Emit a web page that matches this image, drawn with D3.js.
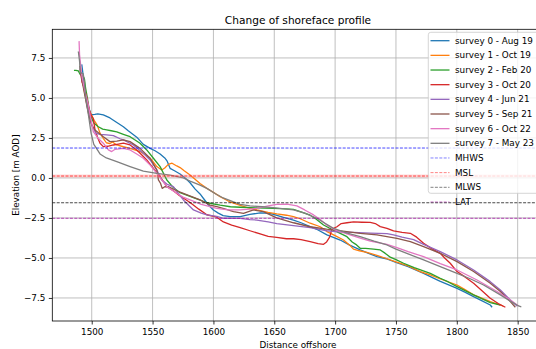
<!DOCTYPE html>
<html>
<head>
<meta charset="utf-8">
<script src="https://cdn.jsdelivr.net/npm/d3@7"></script>
<style>
  body { margin: 0; background: #fff; }
  svg { display: block; font-family: "DejaVu Sans", sans-serif; }
</style>
</head>
<body>
<svg id="chart" width="536" height="349"></svg>
<script>
// ---- data: [distance offshore, elevation m AOD] ----
const surveyNames = [
  "survey 0 - Aug 19", "survey 1 - Oct 19", "survey 2 - Feb 20", "survey 3 - Oct 20",
  "survey 4 - Jun 21", "survey 5 - Sep 21", "survey 6 - Oct 22", "survey 7 - May 23"
];
const surveyColors = ["#1f77b4", "#ff7f0e", "#2ca02c", "#d62728", "#9467bd", "#8c564b", "#e377c2", "#7f7f7f"];

const survey0 = [[1491.8,7.1],[1493,6.4],[1494.5,5.5],[1496,4.9],[1497.5,4.4],[1499.5,3.95],[1502.5,3.97],[1505,4.0],[1509.5,3.94],[1515,3.75],[1520,3.5],[1526,3.2],[1530,2.95],[1537,2.55],[1542.4,2.1],[1548,1.85],[1552,1.7],[1556.2,1.5],[1560,1.25],[1562,1.05],[1564.4,0.6],[1568,0.45],[1572.6,0.25],[1576,0.05],[1580.8,-0.3],[1585,-0.7],[1589,-1.0],[1592,-1.3],[1595.9,-1.69],[1600,-2.0],[1604,-2.2],[1608,-2.35],[1613.7,-2.42],[1622,-2.42],[1630,-2.28],[1638.4,-2.18],[1645,-2.2],[1649.3,-2.27],[1657,-2.45],[1665.8,-2.63],[1672,-2.8],[1679.5,-3.04],[1686,-3.25],[1693.3,-3.56],[1704.2,-3.88],[1712,-4.2],[1720.6,-4.5],[1727,-4.7],[1734.4,-4.92],[1742,-5.05],[1750,-5.28],[1760,-5.55],[1772.7,-5.96],[1786,-6.45],[1800.2,-6.9],[1807,-7.15],[1813.8,-7.42],[1820,-7.65],[1827.5,-7.94],[1829,-8.08]];

const survey1 = [[1490.5,7.0],[1492,6.3],[1494,5.4],[1496,4.7],[1498,4.2],[1500,3.9],[1502,3.6],[1504.5,3.3],[1506.8,2.8],[1509.5,2.48],[1512,2.2],[1515,2.15],[1517,2.25],[1520.6,2.06],[1526,1.95],[1531.5,1.85],[1539.7,1.65],[1544,1.45],[1548,1.23],[1551,0.95],[1553.5,0.71],[1557.5,0.5],[1560,0.62],[1562.9,0.85],[1566,0.92],[1569.9,0.75],[1572.6,0.65],[1576,0.45],[1580.8,0.19],[1589,-0.35],[1594.6,-0.65],[1600,-0.9],[1605.5,-1.17],[1613.7,-1.5],[1622,-1.72],[1628,-1.85],[1635.7,-2.0],[1645,-2.15],[1652.1,-2.25],[1660,-2.33],[1665.8,-2.42],[1671.3,-2.55],[1679.5,-2.83],[1687.8,-3.05],[1693.3,-3.35],[1700,-3.6],[1706.9,-3.875],[1712,-4.2],[1715.1,-4.45],[1720,-4.55],[1726.1,-4.65],[1735,-4.85],[1742.6,-5.05],[1750,-5.25],[1760,-5.5],[1770,-5.85],[1778.2,-6.06],[1786,-6.3],[1800.2,-6.69],[1806,-6.95],[1813.8,-7.31],[1820,-7.5],[1827.5,-7.73],[1835.8,-7.94],[1838,-8.0]];

const survey2 = [[1485.4,6.72],[1487,6.72],[1489,6.69],[1490.4,6.48],[1493.1,6.33],[1494,6.2],[1495,5.6],[1496.5,4.98],[1498.6,3.94],[1501.9,3.42],[1505.4,3.2],[1509,3.05],[1512.3,3.0],[1516,2.95],[1520.6,2.88],[1526,2.73],[1531.5,2.58],[1535,2.4],[1539.7,2.17],[1545.2,1.75],[1550.7,1.23],[1556.2,0.71],[1561.7,-0.125],[1567.1,-0.6],[1572,-0.9],[1580.8,-1.15],[1588,-1.35],[1594.6,-1.55],[1605.5,-1.7],[1614,-1.8],[1622,-1.83],[1635,-1.87],[1649.3,-1.9],[1660,-1.93],[1665.8,-1.96],[1671.3,-2.1],[1679.5,-2.33],[1684,-2.55],[1690.5,-2.94],[1697,-3.2],[1704.2,-3.46],[1709.7,-3.67],[1714,-4.0],[1717,-4.15],[1720.6,-4.4],[1725,-4.4],[1731.6,-4.45],[1737.1,-4.5],[1741,-4.7],[1745.3,-4.95],[1750,-5.1],[1756.3,-5.33],[1765,-5.6],[1778.2,-5.96],[1786.4,-6.27],[1793,-6.5],[1800.2,-6.79],[1813.8,-7.31],[1827.5,-7.79],[1835.8,-7.94]];

const survey3 = [[1490.5,6.8],[1492,6.0],[1494,5.6],[1496,5.0],[1497.5,4.4],[1499,4.0],[1501.3,3.7],[1502.7,3.0],[1505,2.5],[1506.8,2.17],[1509.5,1.96],[1513,1.98],[1517.8,2.06],[1522,2.12],[1526,2.17],[1531.5,2.06],[1537,1.75],[1541,1.45],[1545.2,1.125],[1550.7,0.6],[1556.2,0.08],[1561.7,-0.54],[1567.1,-0.8],[1572,-1.1],[1580.8,-1.53],[1588,-1.95],[1594.6,-2.3],[1602.8,-2.45],[1608.2,-2.75],[1615,-2.95],[1622,-3.1],[1630,-3.3],[1638.4,-3.5],[1645,-3.65],[1652,-3.72],[1660,-3.8],[1665.8,-3.8],[1672,-3.85],[1679.5,-3.98],[1686,-4.1],[1690.5,-4.15],[1693,-4.0],[1695.5,-3.7],[1697.4,-3.2],[1701.5,-3.05],[1705,-2.85],[1709.7,-2.8],[1715.1,-2.75],[1722,-2.77],[1728.9,-2.78],[1733,-2.85],[1737.1,-3.04],[1742.6,-3.15],[1748,-3.31],[1755,-3.4],[1761.8,-3.46],[1767,-3.7],[1772.7,-4.08],[1779,-4.4],[1786.4,-4.71],[1790,-5.0],[1794.6,-5.33],[1800.2,-5.85],[1807,-6.2],[1813.8,-6.58],[1820,-7.0],[1827.5,-7.52],[1834,-7.85],[1839.9,-8.08]];

const survey4 = [[1490.5,6.9],[1492,6.2],[1494,5.5],[1496,4.6],[1498,3.9],[1500,3.3],[1503.5,2.79],[1507,2.72],[1512.3,2.69],[1517.8,2.65],[1523.3,2.45],[1526,2.375],[1534.2,2.06],[1542.4,1.54],[1548,1.125],[1553.5,0.5],[1557.5,-0.125],[1562,-0.4],[1567.1,-0.54],[1571,-0.95],[1575.3,-1.375],[1583.6,-2.0],[1590,-2.2],[1594.6,-2.31],[1602.8,-2.4],[1608.2,-2.52],[1622,-2.53],[1630,-2.6],[1635.7,-2.63],[1645,-2.75],[1652.1,-2.85],[1665.8,-2.98],[1679.5,-3.1],[1693.3,-3.3],[1705,-3.38],[1715.1,-3.4],[1728.9,-3.45],[1742.6,-3.48],[1748,-3.56],[1755,-3.7],[1764.5,-3.85],[1772.7,-4.15],[1786.4,-4.6],[1800.2,-5.125],[1813.8,-5.75],[1827.5,-6.48],[1835.8,-7.0],[1844,-7.625],[1849.5,-8.0]];

const survey5 = [[1490.3,7.0],[1492,6.1],[1494,5.3],[1496,4.5],[1498,3.8],[1500,3.3],[1502.7,3.0],[1509.5,2.58],[1515,2.27],[1520.6,2.3],[1526,2.375],[1531.5,2.27],[1539.7,1.85],[1548,1.23],[1553.5,0.5],[1554.8,-0.125],[1556.5,-0.33],[1557.9,-0.65],[1560,-0.55],[1562.9,-0.54],[1569.9,-0.8],[1575.3,-0.96],[1589,-1.375],[1597.3,-1.7],[1602.8,-1.79],[1610,-1.95],[1616.5,-2.1],[1624.7,-2.21],[1632.9,-2.0],[1641,-2.1],[1652,-2.5],[1665.8,-2.8],[1679.5,-3.05],[1693,-3.2],[1709.7,-3.35],[1720.6,-3.46],[1734.4,-3.56],[1750.8,-3.77],[1761.8,-3.98],[1772.7,-4.29],[1786.4,-4.71],[1800.2,-5.23],[1813.8,-5.85],[1827.5,-6.58],[1835.8,-7.1],[1844,-7.73],[1848.1,-8.08]];

const survey6 = [[1489.6,8.55],[1490,7.7],[1491.8,6.44],[1494.5,5.4],[1497.2,4.56],[1499.2,3.73],[1501.3,2.9],[1505,2.5],[1509.5,2.17],[1513.7,1.75],[1516.4,1.65],[1519.2,1.79],[1526,1.85],[1531.5,1.75],[1537,1.5],[1542.4,1.23],[1548,0.8],[1553.5,0.29],[1561.7,-0.54],[1569.9,-0.96],[1575,-1.2],[1580.8,-1.375],[1590,-1.65],[1602.8,-1.9],[1612,-2.0],[1622,-2.0],[1630,-1.95],[1635.7,-1.9],[1645,-1.75],[1652.1,-1.65],[1660.4,-1.63],[1668.6,-1.75],[1675,-2.0],[1682.3,-2.31],[1687.8,-2.6],[1693.3,-2.95],[1700,-3.25],[1709.7,-3.5],[1720,-3.75],[1728.9,-3.95],[1742.6,-4.15],[1750.8,-4.35],[1760,-4.6],[1772.7,-4.92],[1786.4,-5.35],[1800.2,-5.75],[1816.6,-6.375],[1833.1,-7.1],[1844,-7.625],[1850.8,-8.0]];

const survey7 = [[1489,7.9],[1490,7.3],[1490.5,6.6],[1493,6.5],[1494,6.0],[1495,5.08],[1497.5,3.83],[1499.5,2.79],[1501.7,2.1],[1503.5,1.9],[1506.8,1.5],[1512,1.25],[1520.6,1.02],[1531.5,0.71],[1542.4,0.42],[1553.5,0.29],[1564.4,0.17],[1575.3,0.0],[1580.8,-0.2],[1589,-0.45],[1594.6,-0.65],[1602,-1.0],[1608,-1.25],[1616.5,-1.5],[1622,-1.65],[1630,-1.75],[1640,-1.8],[1649.3,-1.85],[1660,-1.95],[1665.8,-2.0],[1675,-2.2],[1685,-2.52],[1692,-2.85],[1698.7,-3.15],[1710,-3.45],[1720.6,-3.67],[1732,-3.95],[1742.6,-4.19],[1750,-4.45],[1760,-4.75],[1772.7,-5.125],[1786.4,-5.54],[1800.2,-5.96],[1811,-6.3],[1822,-6.69],[1835.8,-7.31],[1844,-7.7],[1850.8,-8.0],[1853,-8.05]];

const surveys = [survey0, survey1, survey2, survey3, survey4, survey5, survey6, survey7];

// tidal levels
const levelNames = ["MHWS", "MSL", "MLWS", "LAT"];
const levelValues = [1.87, 0.12, -1.55, -2.52];
const levelColors = ["#0000ff", "#ff0000", "#000000", "#a000a0"];

// axis ticks
const xTicks = [1500, 1550, 1600, 1650, 1700, 1750, 1800, 1850];
const yTicks = [-7.5, -5.0, -2.5, 0.0, 2.5, 5.0, 7.5];

// ---- layout ----
const plot = { left: 52.3, right: 543.7, top: 29.3, bottom: 321 };
const svg = d3.select("#chart");

const x = d3.scaleLinear().domain([1467.6, 1871.4]).range([plot.left, plot.right]);
const y = d3.scaleLinear().domain([-8.94, 9.29]).range([plot.bottom, plot.top]);

svg.append("defs").append("clipPath").attr("id", "plotClip")
  .append("rect").attr("x", plot.left).attr("y", plot.top)
  .attr("width", plot.right - plot.left).attr("height", plot.bottom - plot.top);

// grid
const grid = svg.append("g").attr("clip-path", "url(#plotClip)");
grid.selectAll(".gx").data(xTicks).join("line")
  .attr("x1", d => x(d)).attr("x2", d => x(d))
  .attr("y1", plot.top).attr("y2", plot.bottom)
  .attr("stroke", "#b0b0b0").attr("stroke-width", 0.8);
grid.selectAll(".gy").data(yTicks).join("line")
  .attr("y1", d => y(d)).attr("y2", d => y(d))
  .attr("x1", plot.left).attr("x2", plot.right)
  .attr("stroke", "#b0b0b0").attr("stroke-width", 0.8);

// survey profiles
const line = d3.line().x(d => x(d[0])).y(d => y(d[1]));
const lines = svg.append("g").attr("clip-path", "url(#plotClip)");
surveys.forEach((s, i) => {
  lines.append("path").datum(s)
    .attr("d", line)
    .attr("fill", "none")
    .attr("stroke", surveyColors[i])
    .attr("stroke-width", 1.3)
    .attr("stroke-linejoin", "round");
});

// tidal levels
levelValues.forEach((v, i) => {
  if (levelNames[i] === "MSL") {
    lines.append("line")
      .attr("x1", plot.left).attr("x2", plot.right)
      .attr("y1", y(v)).attr("y2", y(v))
      .attr("stroke", "#ff8080").attr("stroke-opacity", 0.3).attr("stroke-width", 3);
  }
  lines.append("line")
    .attr("x1", plot.left).attr("x2", plot.right)
    .attr("y1", y(v)).attr("y2", y(v))
    .attr("stroke", levelColors[i]).attr("stroke-opacity", 0.8)
    .attr("stroke-width", 0.9).attr("stroke-dasharray", "3,1.4");
});

// axes
const fmtY = d => d3.format(".1f")(d).replace("-", "\u2212");
const xAxis = svg.append("g").attr("transform", `translate(0,${plot.bottom})`)
  .call(d3.axisBottom(x).tickValues(xTicks).tickFormat(d3.format("d")).tickSize(3.5).tickPadding(4).tickSizeOuter(0));
const yAxis = svg.append("g").attr("transform", `translate(${plot.left},0)`)
  .call(d3.axisLeft(y).tickValues(yTicks).tickFormat(fmtY).tickSize(3.5).tickPadding(3.5).tickSizeOuter(0));
[xAxis, yAxis].forEach(a => {
  a.select(".domain").remove();
  a.selectAll("line").attr("stroke", "#000").attr("stroke-width", 0.8);
  a.selectAll("text").attr("font-size", 8.8).attr("fill", "#000").attr("font-family", "DejaVu Sans");
});

// frame
svg.append("rect")
  .attr("x", plot.left).attr("y", plot.top)
  .attr("width", plot.right - plot.left).attr("height", plot.bottom - plot.top)
  .attr("fill", "none").attr("stroke", "#000").attr("stroke-width", 0.8);

// titles
const midX = (plot.left + plot.right) / 2;
svg.append("text").attr("x", midX).attr("y", 24)
  .attr("text-anchor", "middle").attr("font-size", 10.6).attr("fill", "#000")
  .text("Change of shoreface profile");
svg.append("text").attr("x", midX).attr("y", 347.5)
  .attr("text-anchor", "middle").attr("font-size", 8.8).attr("fill", "#000")
  .text("Distance offshore");
svg.append("text")
  .attr("transform", `translate(18.5,${(plot.top + plot.bottom) / 2}) rotate(-90)`)
  .attr("text-anchor", "middle").attr("font-size", 8.8).attr("fill", "#000")
  .text("Elevation [m AOD]");

// legend
const legend = svg.append("g");
legend.append("rect")
  .attr("x", 428.3).attr("y", 32.3).attr("width", 120).attr("height", 161)
  .attr("rx", 2.5)
  .attr("fill", "#fff").attr("fill-opacity", 0.8)
  .attr("stroke", "#cccccc").attr("stroke-width", 0.8);
const legendItems = surveyNames.map((n, i) => ({ name: n, color: surveyColors[i], dashed: false }))
  .concat(levelNames.map((n, i) => ({ name: n, color: levelColors[i], dashed: true })));
legendItems.forEach((it, i) => {
  const cy = 40.7 + i * 14.66;
  legend.append("line")
    .attr("x1", 430.5).attr("x2", 449.5).attr("y1", cy).attr("y2", cy)
    .attr("stroke", it.color)
    .attr("stroke-width", it.dashed ? 0.9 : 1.3)
    .attr("stroke-opacity", it.dashed ? 0.55 : 1)
    .attr("stroke-dasharray", it.dashed ? "3,1.4" : null);
  legend.append("text")
    .attr("x", 455).attr("y", cy).attr("dy", "0.35em")
    .attr("font-size", 8.8).attr("fill", "#000")
    .text(it.name);
});
</script>
</body>
</html>
